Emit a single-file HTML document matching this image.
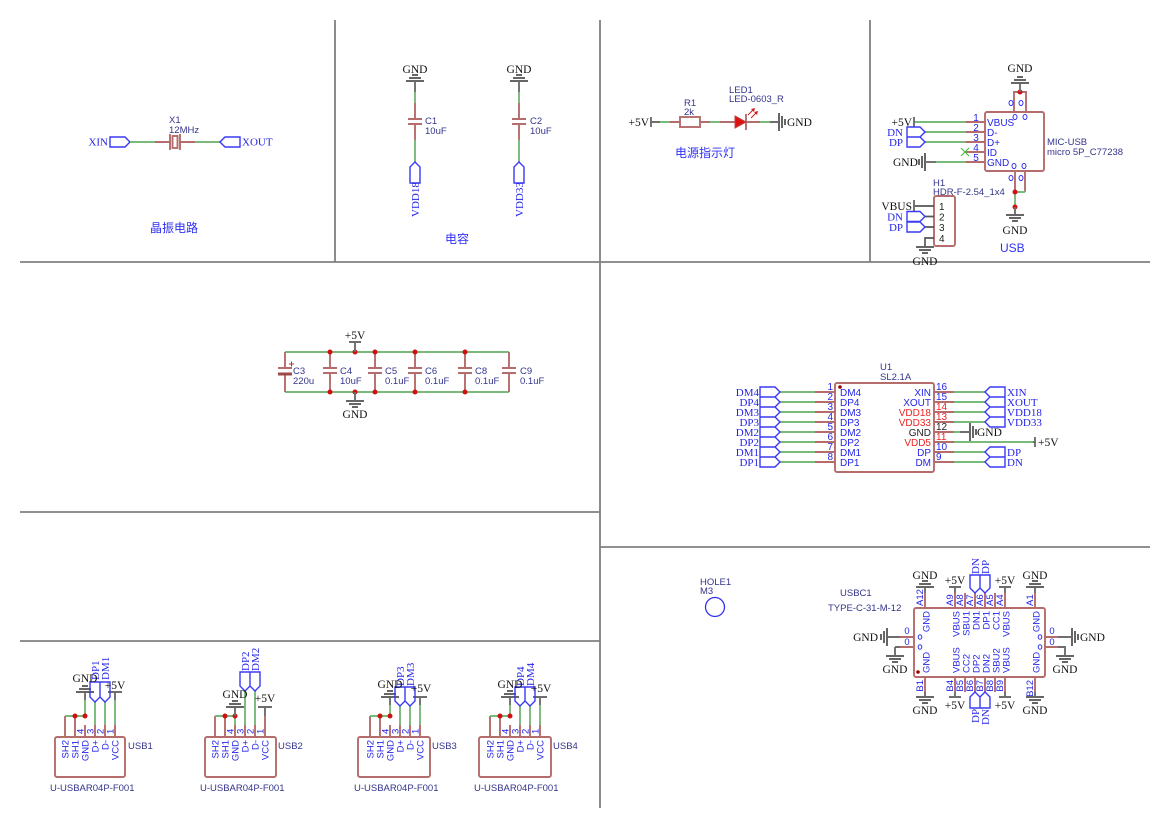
<!DOCTYPE html>
<html><head><meta charset="utf-8"><style>
html,body{margin:0;padding:0;background:#fff;}
svg{display:block}
.w{stroke:#79b979;stroke-width:1.9;fill:none}
.p{stroke:#b46c6c;stroke-width:1.9;fill:none}
.g{stroke:#6e6e6e;stroke-width:1.9;fill:none}
.f{stroke:#3a3af5;stroke-width:1.4;fill:none}
.d{fill:#d01010}
.n{font-family:"Liberation Serif",serif;font-size:11px;fill:#2424e6}
.pw{font-family:"Liberation Serif",serif;font-size:11.5px;fill:#111}
.pl{font-family:"Liberation Sans",sans-serif;font-size:10px;fill:#2525e8}
.cl{font-family:"Liberation Sans",sans-serif;font-size:9.5px;fill:#34348c}
.cn{font-family:"Liberation Sans","Noto Sans CJK SC",sans-serif;font-size:12px;fill:#3030f5}
.r{fill:#ee2222}
.k{fill:#222}
</style></head><body>
<svg width="1169" height="828" viewBox="0 0 1169 828" xmlns="http://www.w3.org/2000/svg">
<defs>
<g id="gb"><path d="M-9,0H9M-6,-3H6M-3,-6H3" stroke="#666" stroke-width="2" fill="none"/></g>
</defs>
<rect width="1169" height="828" fill="#fff"/>
<!-- frame -->
<path d="M20,262H1150M335,20V262M600,20V808M870,20V262M20,512H600M20,641H600M600,547H1150" stroke="#808080" stroke-width="1.8" fill="none"/>

<!-- Crystal -->
<path class="f" d="M110,137h15l5,5l-5,5h-15z"/>
<text class="n" x="108" y="145.5" text-anchor="end">XIN</text>
<path class="w" d="M130,142H155M195,142H220"/>
<path class="p" d="M155,142H171M179,142H195M170,134V150M180,134V150"/>
<rect x="172.5" y="136" width="5" height="12" class="p"/>
<path class="f" d="M220,142l5,-5h15v10h-15z"/>
<text class="n" x="242" y="145.5">XOUT</text>
<text class="cl" x="169" y="123">X1</text>
<text class="cl" x="169" y="133">12MHz</text>
<text class="cn" x="150" y="232">晶振电路</text>

<!-- C1 -->
<text class="pw" x="415" y="73" text-anchor="middle">GND</text>
<use href="#gb" transform="translate(415,81)"/>
<path class="g" d="M415,81V92"/>
<path class="w" d="M415,92V103M415,140V162"/>
<path class="p" d="M415,103V119M415,124V140M408,119H422M408,124H422"/>
<path class="f" d="M415,162l5,5v16h-10v-16z"/>
<text class="n" transform="translate(419,217) rotate(-90)">VDD18</text>
<text class="cl" x="425" y="124">C1</text><text class="cl" x="425" y="134">10uF</text>
<!-- C2 -->
<text class="pw" x="519" y="73" text-anchor="middle">GND</text>
<use href="#gb" transform="translate(519,81)"/>
<path class="g" d="M519,81V92"/>
<path class="w" d="M519,92V103M519,140V162"/>
<path class="p" d="M519,103V119M519,124V140M512,119H526M512,124H526"/>
<path class="f" d="M519,162l5,5v16h-10v-16z"/>
<text class="n" transform="translate(523,217) rotate(-90)">VDD33</text>
<text class="cl" x="530" y="124">C2</text><text class="cl" x="530" y="134">10uF</text>
<text class="cn" x="445" y="243">电容</text>

<!-- LED -->
<text class="pw" x="649" y="126" text-anchor="end">+5V</text>
<path class="g" d="M651,117V127M651,122H660M770,122H779"/>
<path class="w" d="M660,122H670M710,122H720M760,122H770"/>
<path class="p" d="M670,122H680M700,122H710M720,122H735M746,114V130M746,122H760"/>
<rect x="680" y="117" width="20" height="10" class="p"/>
<path d="M735,116L746,122L735,128Z" fill="#e01010" stroke="#c04040" stroke-width="1"/>
<path d="M748,115L754,109M751,118L757,112" stroke="#d02020" stroke-width="1" fill="none"/>
<path d="M755,108l-4,1l3,3z M758,111l-4,1l3,3z" fill="#d02020"/>
<use href="#gb" transform="translate(779,122) rotate(90)"/>
<text class="pw" x="787" y="126">GND</text>
<text class="cl" x="684" y="106">R1</text><text class="cl" x="684" y="115">2k</text>
<text class="cl" x="729" y="93">LED1</text><text class="cl" x="729" y="102">LED-0603_R</text>
<text class="cn" x="675" y="157">电源指示灯</text>

<!-- Micro USB -->
<rect x="985" y="112" width="59" height="59" rx="2" class="p"/>
<path class="p" d="M966,122H985M966,132H985M966,142H985M966,152H985M966,162H985"/>
<text class="pl" x="976" y="121" text-anchor="middle">1</text>
<text class="pl" x="976" y="131" text-anchor="middle">2</text>
<text class="pl" x="976" y="141" text-anchor="middle">3</text>
<text class="pl" x="976" y="151" text-anchor="middle">4</text>
<text class="pl" x="976" y="161" text-anchor="middle">5</text>
<text class="pl" x="987" y="126">VBUS</text>
<text class="pl" x="987" y="136">D-</text>
<text class="pl" x="987" y="146">D+</text>
<text class="pl" x="987" y="156">ID</text>
<text class="pl" x="987" y="166">GND</text>
<path class="w" d="M914,122H966M925,132H966M925,142H966M936,162H966"/>
<path d="M961,148L969,156M969,148L961,156" stroke="#33bb33" stroke-width="1" fill="none"/>
<text class="pw" x="912" y="126" text-anchor="end">+5V</text>
<path class="g" d="M914,117V127"/>
<path class="f" d="M907,127h13l5,5l-5,5h-13z M907,137h13l5,5l-5,5h-13z"/>
<text class="n" x="903" y="136" text-anchor="end">DN</text>
<text class="n" x="903" y="146" text-anchor="end">DP</text>
<text class="pw" x="893" y="166">GND</text>
<use href="#gb" transform="translate(925,162) rotate(-90)"/>
<path class="g" d="M925,162H936"/>
<path class="p" d="M1014,112V92H1026V112"/>
<circle cx="1020" cy="92" r="2.5" class="d"/>
<path class="g" d="M1020,92V83"/>
<use href="#gb" transform="translate(1020,83)"/>
<text class="pw" x="1020" y="72" text-anchor="middle">GND</text>
<g fill="none" stroke="#3333ee" stroke-width="1">
<ellipse cx="1011" cy="103" rx="2" ry="2.5"/><ellipse cx="1021" cy="103" rx="2" ry="2.5"/>
<ellipse cx="1015" cy="117" rx="2" ry="2.5"/><ellipse cx="1025" cy="117" rx="2" ry="2.5"/>
<ellipse cx="1014" cy="166" rx="2" ry="2.5"/><ellipse cx="1024" cy="166" rx="2" ry="2.5"/>
<ellipse cx="1011" cy="178" rx="2" ry="2.5"/><ellipse cx="1021" cy="178" rx="2" ry="2.5"/>
</g>
<path class="p" d="M1015,171V192M1025,171V192"/>
<path class="w" d="M1015,192H1025M1015,192V207"/>
<circle cx="1015" cy="192" r="2.5" class="d"/>
<circle cx="1015" cy="207" r="2.5" class="d"/>
<path class="g" d="M1015,207V215"/>
<use href="#gb" transform="translate(1015,215) rotate(180)"/>
<text class="pw" x="1015" y="234" text-anchor="middle">GND</text>
<text class="cl" x="1047" y="145">MIC-USB</text><text class="cl" x="1047" y="155">micro 5P_C77238</text>

<!-- H1 -->
<rect x="934" y="196" width="21" height="50" rx="2" class="p"/>
<path stroke="#555" stroke-width="1.7" fill="none" d="M914,206H934M925,216.5H934M925,227H934M934,238H925V247"/>
<text class="pl k" x="939" y="210">1</text>
<text class="pl k" x="939" y="220.5">2</text>
<text class="pl k" x="939" y="231">3</text>
<text class="pl k" x="939" y="242">4</text>
<text class="pw" x="912" y="210" text-anchor="end">VBUS</text>
<path class="g" d="M914,200V211"/>
<path class="f" d="M907,211.5h13l5,5l-5,5h-13z M907,222h13l5,5l-5,5h-13z"/>
<text class="n" x="903" y="220.5" text-anchor="end">DN</text>
<text class="n" x="903" y="231" text-anchor="end">DP</text>
<use href="#gb" transform="translate(925,247) rotate(180)"/>
<text class="pw" x="925" y="265" text-anchor="middle">GND</text>
<text class="cl" x="933" y="186">H1</text><text class="cl" x="933" y="195">HDR-F-2.54_1x4</text>
<text class="cn" x="1000" y="252">USB</text>

<!-- Caps row -->
<path class="w" d="M285,352H509M285,392H509"/>
<path class="p" d="M285,352V368M285,375V392M278,368H292M330,352V368M330,373V392M323,368H337M323,373H337M375,352V368M375,373V392M368,368H382M368,373H382M415,352V368M415,373V392M408,368H422M408,373H422M465,352V368M465,373V392M458,368H472M458,373H472M509,352V368M509,373V392M502,368H516M502,373H516"/>
<rect x="278" y="372.5" width="14" height="3" fill="#a04848"/>
<path d="M289,364H294M291.5,361.5V366.5" stroke="#c03030" stroke-width="1"/>
<circle cx="330" cy="352" r="2.5" class="d"/><circle cx="355" cy="352" r="2.5" class="d"/><circle cx="375" cy="352" r="2.5" class="d"/><circle cx="415" cy="352" r="2.5" class="d"/><circle cx="465" cy="352" r="2.5" class="d"/>
<circle cx="330" cy="392" r="2.5" class="d"/><circle cx="355" cy="392" r="2.5" class="d"/><circle cx="375" cy="392" r="2.5" class="d"/><circle cx="415" cy="392" r="2.5" class="d"/><circle cx="465" cy="392" r="2.5" class="d"/>
<path class="g" d="M355,352V342M349,342H361M355,392V401"/>
<text class="pw" x="355" y="339" text-anchor="middle">+5V</text>
<use href="#gb" transform="translate(355,401) rotate(180)"/>
<text class="pw" x="355" y="418" text-anchor="middle">GND</text>
<text class="cl" x="293" y="374">C3</text><text class="cl" x="293" y="384">220u</text>
<text class="cl" x="340" y="374">C4</text><text class="cl" x="340" y="384">10uF</text>
<text class="cl" x="385" y="374">C5</text><text class="cl" x="385" y="384">0.1uF</text>
<text class="cl" x="425" y="374">C6</text><text class="cl" x="425" y="384">0.1uF</text>
<text class="cl" x="475" y="374">C8</text><text class="cl" x="475" y="384">0.1uF</text>
<text class="cl" x="520" y="374">C9</text><text class="cl" x="520" y="384">0.1uF</text>

<!-- U1 -->
<rect x="835" y="383" width="99" height="89" rx="2" class="p"/>
<circle cx="840" cy="387" r="1.8" fill="#900"/>
<text class="cl" x="880" y="370">U1</text><text class="cl" x="880" y="380">SL2.1A</text>
<path class="p" d="M815,392H835M815,402H835M815,412H835M815,422H835M815,432H835M815,442H835M815,452H835M815,462H835M934,392H954M934,402H954M934,412H954M934,422H954M934,432H954M934,442H954M934,452H954M934,462H954"/>
<path class="w" d="M780,392H815M780,402H815M780,412H815M780,422H815M780,432H815M780,442H815M780,452H815M780,462H815M954,392H985M954,402H985M954,412H985M954,422H985M954,432H960M954,442H1033M954,452H985M954,462H985"/>
<path class="f" d="M760,387h15l5,5l-5,5h-15z M760,397h15l5,5l-5,5h-15z M760,407h15l5,5l-5,5h-15z M760,417h15l5,5l-5,5h-15z M760,427h15l5,5l-5,5h-15z M760,437h15l5,5l-5,5h-15z M760,447h15l5,5l-5,5h-15z M760,457h15l5,5l-5,5h-15z"/>
<path class="f" d="M985,392l5,-5h15v10h-15z M985,402l5,-5h15v10h-15z M985,412l5,-5h15v10h-15z M985,422l5,-5h15v10h-15z M985,452l5,-5h15v10h-15z M985,462l5,-5h15v10h-15z"/>
<text class="n" x="759" y="396" text-anchor="end">DM4</text>
<text class="n" x="759" y="406" text-anchor="end">DP4</text>
<text class="n" x="759" y="416" text-anchor="end">DM3</text>
<text class="n" x="759" y="426" text-anchor="end">DP3</text>
<text class="n" x="759" y="436" text-anchor="end">DM2</text>
<text class="n" x="759" y="446" text-anchor="end">DP2</text>
<text class="n" x="759" y="456" text-anchor="end">DM1</text>
<text class="n" x="759" y="466" text-anchor="end">DP1</text>
<text class="pl" x="833" y="390" text-anchor="end">1</text>
<text class="pl" x="833" y="400" text-anchor="end">2</text>
<text class="pl" x="833" y="410" text-anchor="end">3</text>
<text class="pl" x="833" y="420" text-anchor="end">4</text>
<text class="pl" x="833" y="430" text-anchor="end">5</text>
<text class="pl" x="833" y="440" text-anchor="end">6</text>
<text class="pl" x="833" y="450" text-anchor="end">7</text>
<text class="pl" x="833" y="460" text-anchor="end">8</text>
<text class="pl" x="840" y="396">DM4</text>
<text class="pl" x="840" y="406">DP4</text>
<text class="pl" x="840" y="416">DM3</text>
<text class="pl" x="840" y="426">DP3</text>
<text class="pl" x="840" y="436">DM2</text>
<text class="pl" x="840" y="446">DP2</text>
<text class="pl" x="840" y="456">DM1</text>
<text class="pl" x="840" y="466">DP1</text>
<text class="pl" x="936" y="390">16</text>
<text class="pl" x="936" y="400">15</text>
<text class="pl r" x="936" y="410">14</text>
<text class="pl r" x="936" y="420">13</text>
<text class="pl k" x="936" y="430">12</text>
<text class="pl r" x="936" y="440">11</text>
<text class="pl" x="936" y="450">10</text>
<text class="pl" x="936" y="460">9</text>
<text class="pl" x="931" y="396" text-anchor="end">XIN</text>
<text class="pl" x="931" y="406" text-anchor="end">XOUT</text>
<text class="pl r" x="931" y="416" text-anchor="end">VDD18</text>
<text class="pl r" x="931" y="426" text-anchor="end">VDD33</text>
<text class="pl k" x="931" y="436" text-anchor="end">GND</text>
<text class="pl r" x="931" y="446" text-anchor="end">VDD5</text>
<text class="pl" x="931" y="456" text-anchor="end">DP</text>
<text class="pl" x="931" y="466" text-anchor="end">DM</text>
<text class="n" x="1007" y="396">XIN</text>
<text class="n" x="1007" y="406">XOUT</text>
<text class="n" x="1007" y="416">VDD18</text>
<text class="n" x="1007" y="426">VDD33</text>
<text class="n" x="1007" y="456">DP</text>
<text class="n" x="1007" y="466">DN</text>
<path class="g" d="M960,432H970M1033,442H1035M1035,437V447"/>
<use href="#gb" transform="translate(970,432) rotate(90)"/>
<text class="pw" x="977" y="436">GND</text>
<text class="pw" x="1038" y="446">+5V</text>

<!-- HOLE -->
<text class="cl" x="700" y="585">HOLE1</text><text class="cl" x="700" y="594">M3</text>
<circle cx="715" cy="607" r="9.5" fill="none" stroke="#3333ee" stroke-width="1.3"/>

<!-- USB-C -->
<text class="cl" x="840" y="596">USBC1</text>
<text class="cl" x="828" y="611">TYPE-C-31-M-12</text>
<rect x="914" y="608" width="131" height="69" rx="2" class="p"/>
<circle cx="918" cy="672" r="1.8" fill="#900"/>
<path class="p" d="M925,593V608M955,593V608M965,593V608M975,593V608M985,593V608M995,593V608M1005,593V608M1035,593V608M925,677V692M955,677V692M965,677V692M975,677V692M985,677V692M995,677V692M1005,677V692M1035,677V692M900,637H914M900,647H914M1045,637H1058M1045,647H1058"/>
<g class="pl" style="font-size:9.5px">
<text transform="translate(923,606) rotate(-90)">A12</text>
<text transform="translate(953,606) rotate(-90)">A9</text>
<text transform="translate(963,606) rotate(-90)">A8</text>
<text transform="translate(973,606) rotate(-90)">A7</text>
<text transform="translate(983,606) rotate(-90)">A6</text>
<text transform="translate(993,606) rotate(-90)">A5</text>
<text transform="translate(1003,606) rotate(-90)">A4</text>
<text transform="translate(1033,606) rotate(-90)">A1</text>
<text transform="translate(923,680) rotate(-90)" text-anchor="end">B1</text>
<text transform="translate(953,680) rotate(-90)" text-anchor="end">B4</text>
<text transform="translate(963,680) rotate(-90)" text-anchor="end">B5</text>
<text transform="translate(973,680) rotate(-90)" text-anchor="end">B6</text>
<text transform="translate(983,680) rotate(-90)" text-anchor="end">B7</text>
<text transform="translate(993,680) rotate(-90)" text-anchor="end">B8</text>
<text transform="translate(1003,680) rotate(-90)" text-anchor="end">B9</text>
<text transform="translate(1033,680) rotate(-90)" text-anchor="end">B12</text>
<text transform="translate(929.5,611) rotate(-90)" text-anchor="end">GND</text>
<text transform="translate(959.5,611) rotate(-90)" text-anchor="end">VBUS</text>
<text transform="translate(969.5,611) rotate(-90)" text-anchor="end">SBU1</text>
<text transform="translate(979.5,611) rotate(-90)" text-anchor="end">DN1</text>
<text transform="translate(989.5,611) rotate(-90)" text-anchor="end">DP1</text>
<text transform="translate(999.5,611) rotate(-90)" text-anchor="end">CC1</text>
<text transform="translate(1009.5,611) rotate(-90)" text-anchor="end">VBUS</text>
<text transform="translate(1039.5,611) rotate(-90)" text-anchor="end">GND</text>
<text transform="translate(929.5,673) rotate(-90)">GND</text>
<text transform="translate(959.5,673) rotate(-90)">VBUS</text>
<text transform="translate(969.5,673) rotate(-90)">CC2</text>
<text transform="translate(979.5,673) rotate(-90)">DP2</text>
<text transform="translate(989.5,673) rotate(-90)">DN2</text>
<text transform="translate(999.5,673) rotate(-90)">SBU2</text>
<text transform="translate(1009.5,673) rotate(-90)">VBUS</text>
<text transform="translate(1039.5,673) rotate(-90)">GND</text>
<text x="907" y="634" text-anchor="middle">0</text>
<text x="907" y="645" text-anchor="middle">0</text>
<text x="1052" y="634" text-anchor="middle">0</text>
<text x="1052" y="645" text-anchor="middle">0</text>
</g>
<g fill="none" stroke="#3333ee" stroke-width="1">
<ellipse cx="920" cy="637" rx="1.8" ry="2.3"/><ellipse cx="920" cy="647" rx="1.8" ry="2.3"/>
<ellipse cx="1040" cy="637" rx="1.8" ry="2.3"/><ellipse cx="1040" cy="647" rx="1.8" ry="2.3"/>
</g>
<!-- USB-C power/gnd -->
<path class="g" d="M925,587V593M1035,587V593M955,587V593M949,587H961M1005,587V593M999,587H1011M925,692V697M1035,692V697M955,692V697M949,697H961M1005,692V697M999,697H1011M887,637H900M895,647H900M895,647V656M1058,637H1072M1058,647H1065V656"/>
<use href="#gb" transform="translate(925,587)"/>
<use href="#gb" transform="translate(1035,587)"/>
<use href="#gb" transform="translate(925,697) rotate(180)"/>
<use href="#gb" transform="translate(1035,697) rotate(180)"/>
<use href="#gb" transform="translate(887,637) rotate(-90)"/>
<use href="#gb" transform="translate(895,656) rotate(180)"/>
<use href="#gb" transform="translate(1072,637) rotate(90)"/>
<use href="#gb" transform="translate(1065,656) rotate(180)"/>
<text class="pw" x="925" y="579" text-anchor="middle">GND</text>
<text class="pw" x="1035" y="579" text-anchor="middle">GND</text>
<text class="pw" x="955" y="584" text-anchor="middle">+5V</text>
<text class="pw" x="1005" y="584" text-anchor="middle">+5V</text>
<text class="pw" x="925" y="714" text-anchor="middle">GND</text>
<text class="pw" x="1035" y="714" text-anchor="middle">GND</text>
<text class="pw" x="955" y="709" text-anchor="middle">+5V</text>
<text class="pw" x="1005" y="709" text-anchor="middle">+5V</text>
<text class="pw" x="878" y="641" text-anchor="end">GND</text>
<text class="pw" x="895" y="673" text-anchor="middle">GND</text>
<text class="pw" x="1080" y="641">GND</text>
<text class="pw" x="1065" y="673" text-anchor="middle">GND</text>
<path class="f" d="M970,575v13l5,5l5,-5v-13z M980,575v13l5,5l5,-5v-13z M975,692l5,5v11h-10v-11z M985,692l5,5v11h-10v-11z"/>
<text class="n" transform="translate(979,574) rotate(-90)">DN</text>
<text class="n" transform="translate(989,574) rotate(-90)">DP</text>
<text class="n" transform="translate(979,723) rotate(-90)">DP</text>
<text class="n" transform="translate(989,725) rotate(-90)">DN</text>

<!-- USB1 -->
<rect x="55" y="737" width="70" height="40" rx="2" class="p"/>
<path class="p" d="M65,716V737M75,716V737M85,725V737M95,725V737M105,725V737M115,725V737"/>
<path class="w" d="M65,716H85M85,716V700M95,702V725M105,702V725M115,700V725"/>
<circle cx="75" cy="716" r="2.5" class="d"/><circle cx="85" cy="716" r="2.5" class="d"/>
<path class="g" d="M85,692V700M115,692V700M108,692H122"/>
<use href="#gb" transform="translate(85,692)"/>
<path class="f" d="M90,682v15l5,5l5,-5v-15z M100,682v15l5,5l5,-5v-15z"/>
<text class="n" transform="translate(99,680) rotate(-90)">DP1</text>
<text class="n" transform="translate(109,680) rotate(-90)">DM1</text>
<text class="pw" x="85" y="682" text-anchor="middle">GND</text>
<text class="pw" x="115" y="689" text-anchor="middle">+5V</text>
<g class="pl" style="font-size:9.5px">
<text transform="translate(83.5,734) rotate(-90)">4</text>
<text transform="translate(93.5,734) rotate(-90)">3</text>
<text transform="translate(103.5,734) rotate(-90)">2</text>
<text transform="translate(113.5,734) rotate(-90)">1</text>
<text transform="translate(68.5,740) rotate(-90)" text-anchor="end">SH2</text>
<text transform="translate(78.5,740) rotate(-90)" text-anchor="end">SH1</text>
<text transform="translate(88.5,740) rotate(-90)" text-anchor="end">GND</text>
<text transform="translate(98.5,740) rotate(-90)" text-anchor="end">D+</text>
<text transform="translate(108.5,740) rotate(-90)" text-anchor="end">D-</text>
<text transform="translate(118.5,740) rotate(-90)" text-anchor="end">VCC</text>
</g>
<text class="cl" x="128" y="749">USB1</text>
<text class="cl" x="50" y="791">U-USBAR04P-F001</text>

<!-- USB2 -->
<rect x="205" y="737" width="71" height="40" rx="2" class="p"/>
<path class="p" d="M215,716V737M225,716V737M235,725V737M245,725V737M255,725V737M265,716V737"/>
<path class="w" d="M215,716H235M235,716V725M245,691V725M255,691V725"/>
<circle cx="225" cy="716" r="2.5" class="d"/><circle cx="235" cy="716" r="2.5" class="d"/>
<path class="g" d="M235,707V716M265,707V716M258,707H272"/>
<use href="#gb" transform="translate(235,707)"/>
<path class="f" d="M240,672v14l5,5l5,-5v-14z M250,672v14l5,5l5,-5v-14z"/>
<text class="n" transform="translate(249,671) rotate(-90)">DP2</text>
<text class="n" transform="translate(259,671) rotate(-90)">DM2</text>
<text class="pw" x="235" y="698" text-anchor="middle">GND</text>
<text class="pw" x="265" y="702" text-anchor="middle">+5V</text>
<g class="pl" style="font-size:9.5px">
<text transform="translate(233.5,734) rotate(-90)">4</text>
<text transform="translate(243.5,734) rotate(-90)">3</text>
<text transform="translate(253.5,734) rotate(-90)">2</text>
<text transform="translate(263.5,734) rotate(-90)">1</text>
<text transform="translate(218.5,740) rotate(-90)" text-anchor="end">SH2</text>
<text transform="translate(228.5,740) rotate(-90)" text-anchor="end">SH1</text>
<text transform="translate(238.5,740) rotate(-90)" text-anchor="end">GND</text>
<text transform="translate(248.5,740) rotate(-90)" text-anchor="end">D+</text>
<text transform="translate(258.5,740) rotate(-90)" text-anchor="end">D-</text>
<text transform="translate(268.5,740) rotate(-90)" text-anchor="end">VCC</text>
</g>
<text class="cl" x="278" y="749">USB2</text>
<text class="cl" x="200" y="791">U-USBAR04P-F001</text>

<!-- USB3 -->
<rect x="358" y="737" width="72" height="40" rx="2" class="p"/>
<path class="p" d="M370,716V737M380,716V737M390,725V737M400,725V737M410,725V737M420,725V737"/>
<path class="w" d="M370,716H390M390,716V705M400,706V725M410,706V725M420,705V725"/>
<circle cx="380" cy="716" r="2.5" class="d"/><circle cx="390" cy="716" r="2.5" class="d"/>
<path class="g" d="M390,697V705M420,697V705M413,697H427"/>
<use href="#gb" transform="translate(390,697)"/>
<path class="f" d="M395,687v14l5,5l5,-5v-14z M405,687v14l5,5l5,-5v-14z"/>
<text class="n" transform="translate(404,686) rotate(-90)">DP3</text>
<text class="n" transform="translate(414,686) rotate(-90)">DM3</text>
<text class="pw" x="390" y="688" text-anchor="middle">GND</text>
<text class="pw" x="421" y="692" text-anchor="middle">+5V</text>
<g class="pl" style="font-size:9.5px">
<text transform="translate(388.5,734) rotate(-90)">4</text>
<text transform="translate(398.5,734) rotate(-90)">3</text>
<text transform="translate(408.5,734) rotate(-90)">2</text>
<text transform="translate(418.5,734) rotate(-90)">1</text>
<text transform="translate(373.5,740) rotate(-90)" text-anchor="end">SH2</text>
<text transform="translate(383.5,740) rotate(-90)" text-anchor="end">SH1</text>
<text transform="translate(393.5,740) rotate(-90)" text-anchor="end">GND</text>
<text transform="translate(403.5,740) rotate(-90)" text-anchor="end">D+</text>
<text transform="translate(413.5,740) rotate(-90)" text-anchor="end">D-</text>
<text transform="translate(423.5,740) rotate(-90)" text-anchor="end">VCC</text>
</g>
<text class="cl" x="432" y="749">USB3</text>
<text class="cl" x="354" y="791">U-USBAR04P-F001</text>

<!-- USB4 -->
<rect x="479" y="737" width="72" height="40" rx="2" class="p"/>
<path class="p" d="M490,716V737M500,716V737M510,725V737M520,725V737M530,725V737M540,725V737"/>
<path class="w" d="M490,716H510M510,716V705M520,706V725M530,706V725M540,705V725"/>
<circle cx="500" cy="716" r="2.5" class="d"/><circle cx="510" cy="716" r="2.5" class="d"/>
<path class="g" d="M510,697V705M540,697V705M533,697H547"/>
<use href="#gb" transform="translate(510,697)"/>
<path class="f" d="M515,687v14l5,5l5,-5v-14z M525,687v14l5,5l5,-5v-14z"/>
<text class="n" transform="translate(524,686) rotate(-90)">DP4</text>
<text class="n" transform="translate(534,686) rotate(-90)">DM4</text>
<text class="pw" x="510" y="688" text-anchor="middle">GND</text>
<text class="pw" x="541" y="692" text-anchor="middle">+5V</text>
<g class="pl" style="font-size:9.5px">
<text transform="translate(508.5,734) rotate(-90)">4</text>
<text transform="translate(518.5,734) rotate(-90)">3</text>
<text transform="translate(528.5,734) rotate(-90)">2</text>
<text transform="translate(538.5,734) rotate(-90)">1</text>
<text transform="translate(493.5,740) rotate(-90)" text-anchor="end">SH2</text>
<text transform="translate(503.5,740) rotate(-90)" text-anchor="end">SH1</text>
<text transform="translate(513.5,740) rotate(-90)" text-anchor="end">GND</text>
<text transform="translate(523.5,740) rotate(-90)" text-anchor="end">D+</text>
<text transform="translate(533.5,740) rotate(-90)" text-anchor="end">D-</text>
<text transform="translate(543.5,740) rotate(-90)" text-anchor="end">VCC</text>
</g>
<text class="cl" x="553" y="749">USB4</text>
<text class="cl" x="474" y="791">U-USBAR04P-F001</text>
</svg>
</body></html>
